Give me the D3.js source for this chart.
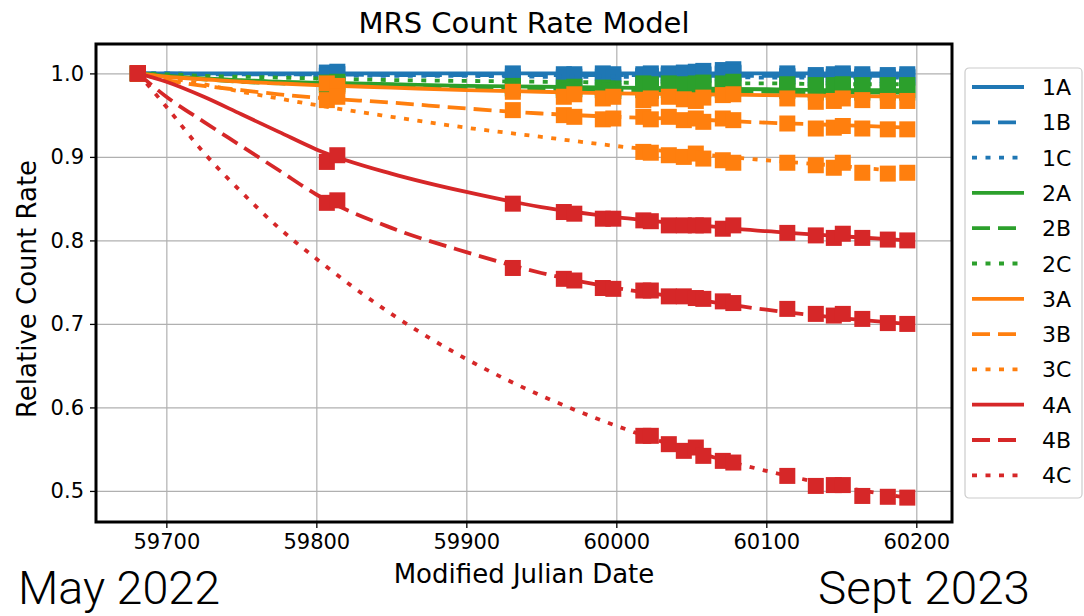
<!DOCTYPE html>
<html>
<head>
<meta charset="utf-8">
<script src="https://cdn.jsdelivr.net/npm/d3@7"></script>
<style>
  body { margin: 0; background: #fff; }
  svg { display: block; }
  text { font-family: "DejaVu Sans", sans-serif; fill: #000; }
</style>
</head>
<body>
<script>
// channels in legend order
var channels = ["1A","1B","1C","2A","2B","2C","3A","3B","3C","4A","4B","4C"];
var colors = {"1":"#1f77b4","2":"#2ca02c","3":"#ff7f0e","4":"#d62728"};

// model curve
var modelDates = [59681, 59700, 59725, 59750, 59775, 59800, 59850, 59900, 59950, 60000, 60050, 60100, 60150, 60194];
var model1A = [1.000, 1.000, 1.000, 1.000, 1.000, 1.000, 1.000, 1.000, 1.000, 1.000, 1.000, 1.000, 1.000, 1.000];
var model1B = [1.000, 1.000, 0.999, 0.999, 0.999, 0.999, 0.998, 0.998, 0.998, 0.998, 0.997, 0.997, 0.997, 0.997];
var model1C = [1.000, 1.000, 0.999, 0.999, 0.998, 0.998, 0.997, 0.997, 0.996, 0.996, 0.996, 0.995, 0.995, 0.995];
var model2A = [1.000, 0.997, 0.994, 0.992, 0.990, 0.989, 0.987, 0.985, 0.984, 0.983, 0.982, 0.981, 0.980, 0.980];
var model2B = [1.000, 0.997, 0.993, 0.990, 0.988, 0.987, 0.984, 0.982, 0.981, 0.980, 0.979, 0.978, 0.977, 0.977];
var model2C = [1.000, 0.999, 0.997, 0.996, 0.995, 0.994, 0.992, 0.991, 0.990, 0.989, 0.988, 0.988, 0.987, 0.987];
var model3A = [1.000, 0.996, 0.993, 0.990, 0.988, 0.986, 0.983, 0.980, 0.978, 0.976, 0.975, 0.974, 0.973, 0.972];
var model3B = [1.000, 0.992, 0.985, 0.980, 0.975, 0.971, 0.965, 0.958, 0.952, 0.948, 0.945, 0.941, 0.938, 0.935];
var model3C = [1.000, 0.995, 0.987, 0.978, 0.970, 0.962, 0.948, 0.935, 0.924, 0.913, 0.904, 0.896, 0.889, 0.882];
var model4A = [1.000, 0.990, 0.972, 0.951, 0.930, 0.909, 0.880, 0.858, 0.840, 0.828, 0.819, 0.811, 0.805, 0.800];
var model4B = [1.000, 0.972, 0.942, 0.913, 0.884, 0.855, 0.815, 0.786, 0.761, 0.743, 0.730, 0.717, 0.707, 0.700];
var model4C = [1.000, 0.960, 0.905, 0.858, 0.815, 0.778, 0.712, 0.658, 0.614, 0.578, 0.548, 0.524, 0.505, 0.492];

// measured points (null = no measurement)
var obsDates = [59681, 59807, 59814, 59931, 59965, 59972, 59991, 59998, 60018, 60023, 60035, 60045, 60053, 60058, 60071, 60078, 60114, 60133, 60145, 60151, 60164, 60181, 60194];
var obs1A = [1.000, 1.001, 1.002, 1.000, 0.999, 0.999, 1.000, 0.999, 0.999, 1.000, 1.000, 1.001, 1.002, 1.003, 1.004, 1.005, 1.000, 0.998, 0.999, 1.000, 0.999, 0.998, 0.999];
var obs1B = [1.000, 0.997, 0.999, 0.996, 0.995, 0.996, 0.996, 0.995, 0.996, 0.996, 0.997, 0.998, 0.997, 0.998, 0.999, 1.000, 0.996, 0.994, 0.995, 0.996, 0.995, 0.994, 0.995];
var obs1C = [1.000, null, null, null, null, null, null, null, 0.997, 0.997, 0.998, 0.998, 0.999, 0.999, 1.000, 1.001, 0.997, 0.995, 0.996, 0.997, 0.996, 0.995, 0.996];
var obs2A = [1.000, 0.989, 0.990, 0.985, 0.983, 0.984, 0.983, 0.982, 0.983, 0.982, 0.983, 0.982, 0.983, 0.984, 0.983, 0.985, 0.982, 0.980, 0.981, 0.982, 0.980, 0.980, 0.980];
var obs2B = [1.000, 0.986, 0.987, 0.982, 0.980, 0.981, 0.980, 0.979, 0.980, 0.979, 0.980, 0.979, 0.980, 0.981, 0.980, 0.982, 0.979, 0.977, 0.978, 0.979, 0.977, 0.977, 0.977];
var obs2C = [1.000, null, null, null, null, null, null, null, 0.988, 0.987, 0.988, 0.987, 0.988, 0.989, 0.988, 0.990, 0.987, 0.986, 0.986, 0.987, 0.986, 0.986, 0.986];
var obs3A = [1.000, 0.988, 0.985, 0.978, 0.972, 0.975, 0.970, 0.972, 0.968, 0.970, 0.972, 0.969, 0.967, 0.971, 0.974, 0.975, 0.970, 0.966, 0.967, 0.970, 0.968, 0.967, 0.967];
var obs3B = [1.000, 0.968, 0.972, 0.956, 0.950, 0.948, 0.945, 0.946, 0.948, 0.945, 0.948, 0.944, 0.946, 0.942, 0.946, 0.944, 0.940, 0.934, 0.935, 0.937, 0.934, 0.933, 0.933];
var obs3C = [1.000, null, null, null, null, null, null, null, 0.906, 0.905, 0.902, 0.900, 0.904, 0.898, 0.896, 0.893, 0.893, 0.890, 0.887, 0.893, 0.881, 0.880, 0.881];
var obs4A = [1.000, 0.894, 0.902, 0.844, 0.834, 0.832, 0.826, 0.826, 0.824, 0.823, 0.818, 0.818, 0.818, 0.818, 0.814, 0.818, 0.809, 0.806, 0.803, 0.808, 0.803, 0.801, 0.800];
var obs4B = [1.000, 0.845, 0.848, 0.767, 0.754, 0.752, 0.743, 0.742, 0.740, 0.740, 0.733, 0.733, 0.731, 0.730, 0.727, 0.725, 0.718, 0.712, 0.710, 0.712, 0.706, 0.701, 0.700];
var obs4C = [1.000, null, null, null, null, null, null, null, 0.566, 0.566, 0.556, 0.548, 0.552, 0.542, 0.536, 0.534, 0.518, 0.506, 0.507, 0.507, 0.494, 0.493, 0.492];

var xTicks = [59700, 59800, 59900, 60000, 60100, 60200];
var yTicks = [0.5, 0.6, 0.7, 0.8, 0.9, 1.0];

var models = [model1A, model1B, model1C, model2A, model2B, model2C, model3A, model3B, model3C, model4A, model4B, model4C];
var obs = [obs1A, obs1B, obs1C, obs2A, obs2B, obs2C, obs3A, obs3B, obs3C, obs4A, obs4B, obs4C];

var series = channels.map(function(c, i) {
    return {
        name: c,
        color: colors[c[0]],
        style: c[1],
        model: modelDates.map(function(d, j){ return [d, models[i][j]]; }),
        points: obsDates.map(function(d, j){ return [d, obs[i][j]]; }).filter(function(p){ return p[1] != null; })
    };
});

function dashFor(s) {
    if (s == "B") return "18,8";
    if (s == "C") return "5,8.5";
    return null;
}

var W = 1084, H = 616;
var margin = {top:44, right:132, bottom:94, left:96};
var width = W - margin.left - margin.right;
var height = H - margin.top - margin.bottom;

var x = d3.scaleLinear().domain([59653.1, 60223.8]).range([0, width]);
var y = d3.scaleLinear().domain([0.4628, 1.0352]).range([height, 0]);

var svg = d3.select("body").append("svg").attr("width", W).attr("height", H);
var g = svg.append("g").attr("transform", "translate(" + margin.left + "," + margin.top + ")");

// grid
g.append("g").attr("class","grid")
    .attr("transform","translate(0," + height + ")")
    .call(d3.axisBottom(x).tickValues(xTicks).tickSize(-height).tickFormat(""))
    .call(function(a){ a.select(".domain").remove(); a.selectAll("line").attr("stroke","#b0b0b0").attr("stroke-width",1.2); });
g.append("g").attr("class","grid")
    .call(d3.axisLeft(y).tickValues(yTicks).tickSize(-width).tickFormat(""))
    .call(function(a){ a.select(".domain").remove(); a.selectAll("line").attr("stroke","#b0b0b0").attr("stroke-width",1.2); });

svg.append("clipPath").attr("id","clip").append("rect").attr("width", width).attr("height", height);
var plot = g.append("g").attr("clip-path","url(#clip)");

var line = d3.line().x(function(d){ return x(d[0]); }).y(function(d){ return y(d[1]); }).curve(d3.curveMonotoneX);

var ms = 16;
series.forEach(function(s) {
    plot.append("path")
        .attr("d", line(s.model))
        .attr("fill","none")
        .attr("stroke", s.color)
        .attr("stroke-width", 3.8)
        .attr("stroke-dasharray", dashFor(s.style));
    plot.selectAll(null)
        .data(s.points)
        .enter()
        .append("rect")
        .attr("x", function(d){ return x(d[0]) - ms/2; })
        .attr("y", function(d){ return y(d[1]) - ms/2; })
        .attr("width", ms)
        .attr("height", ms)
        .attr("fill", s.color);
});

// axes
var xAxis = g.append("g").attr("transform","translate(0," + height + ")")
    .call(d3.axisBottom(x).tickValues(xTicks).tickSize(6).tickPadding(6).tickFormat(d3.format("d")));
var yAxis = g.append("g")
    .call(d3.axisLeft(y).tickValues(yTicks).tickSize(6).tickPadding(6).tickFormat(d3.format(".1f")));
[xAxis, yAxis].forEach(function(a){
    a.select(".domain").remove();
    a.selectAll("text").style("font-family","DejaVu Sans").style("font-size","21px").attr("fill","#000");
    a.selectAll("line").attr("stroke","#000").attr("stroke-width",1.3);
});

g.append("rect").attr("width", width).attr("height", height)
    .attr("fill","none").attr("stroke","#000").attr("stroke-width",3);

// titles
svg.append("text").attr("x", margin.left + width/2).attr("y", 33)
    .attr("text-anchor","middle").style("font-size","29px").text("MRS Count Rate Model");
svg.append("text").attr("x", margin.left + width/2).attr("y", 583)
    .attr("text-anchor","middle").style("font-size","26px").text("Modified Julian Date");
svg.append("text").attr("transform","translate(36," + (margin.top + height/2 + 6) + ") rotate(-90)")
    .attr("text-anchor","middle").style("font-size","26px").text("Relative Count Rate");

// legend
var leg = svg.append("g").attr("transform","translate(965,68)");
leg.append("rect").attr("width",117).attr("height",430).attr("rx",4)
    .attr("fill","#fff").attr("stroke","#ccc").attr("stroke-width",1.2);
series.forEach(function(s, i) {
    var ly = 19 + i*35.3;
    leg.append("line").attr("x1",7).attr("x2",59).attr("y1",ly).attr("y2",ly)
        .attr("stroke", s.color).attr("stroke-width",3.8)
        .attr("stroke-dasharray", dashFor(s.style));
    leg.append("text").attr("x",77).attr("y",ly + 8).style("font-size","22px").text(s.name);
});

// date notes under the axis
svg.append("text").attr("x",18).attr("y",604)
    .attr("textLength",202).attr("lengthAdjust","spacingAndGlyphs")
    .style("font-family","Roboto").style("font-weight","300").style("font-size","47px").text("May 2022");
svg.append("text").attr("x",818).attr("y",604)
    .attr("textLength",212).attr("lengthAdjust","spacingAndGlyphs")
    .style("font-family","Roboto").style("font-weight","300").style("font-size","47px").text("Sept 2023");
</script>
</body>
</html>
